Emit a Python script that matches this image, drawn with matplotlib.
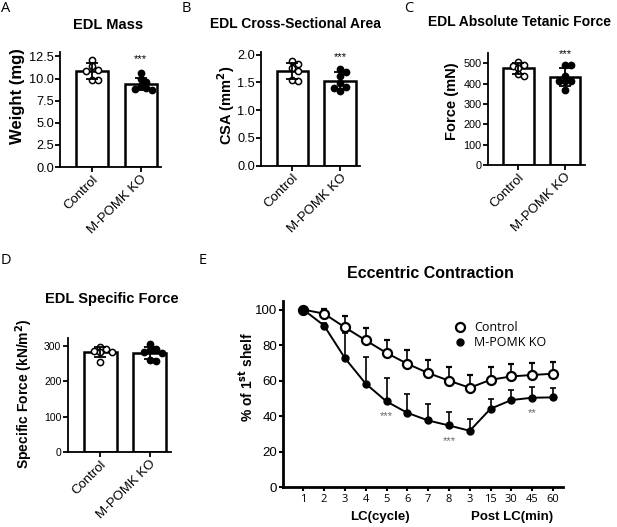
import matplotlib
matplotlib.use("Agg")
import matplotlib.pyplot as plt
from matplotlib.lines import Line2D
from matplotlib.ticker import FormatStrFormatter
import matplotlib.transforms as mtransforms
import numpy as np

plt.rcParams['font.family'] = ['Liberation Sans', 'DejaVu Sans']

groups = ["Control", "M-POMK KO"]

# individual muscles
mass_ctrl = [12.1, 11.4, 11.0, 10.9, 9.8, 9.8]
mass_ko = [10.6, 9.9, 9.6, 9.2, 8.9, 8.8, 8.7]
csa_ctrl = [1.88, 1.83, 1.76, 1.70, 1.54, 1.53]
csa_ko = [1.74, 1.68, 1.62, 1.48, 1.42, 1.40, 1.34]
force_ctrl = [508, 492, 488, 480, 446, 440]
force_ko = [490, 493, 440, 416, 412, 414, 368]
spec_ctrl = [292, 297, 286, 284, 282, 255]
spec_ko = [305, 293, 288, 283, 281, 262, 258]

# eccentric contraction protocol
cycles = ["1", "2", "3", "4", "5", "6", "7", "8", "3", "15", "30", "45", "60"]
ecc_ctrl = [100, 97.7, 90.0, 82.7, 75.6, 69.5, 64.3, 60.0, 56.0, 60.5, 62.4, 63.2, 63.9]
ecc_ctrl_err = [0, 2.9, 6.2, 6.8, 7.5, 7.6, 7.5, 7.7, 7.0, 7.2, 7.0, 6.7, 6.8]
ecc_ko = [100, 91.0, 72.7, 58.3, 48.3, 41.9, 37.6, 34.8, 31.8, 44.2, 49.1, 50.4, 50.6]
ecc_ko_err = [0, 1.5, 14.1, 15.0, 13.2, 10.7, 9.0, 7.5, 6.5, 5.4, 5.4, 5.8, 5.4]
star_idx = [4, 7, 11]
star_y = [40, 26, 42]
star_txt = ["***", "***", "**"]

W, H = 617, 527


def px_box(left, top, right, bottom):
    return [left / W, 1 - bottom / H, (right - left) / W, (bottom - top) / H]


def swarm(vals, ytop, step=0.12):
    vals = np.asarray(vals, float)
    offs = np.zeros(len(vals))
    placed = []
    thr = ytop * 0.045
    for i in np.argsort(-vals):
        for k in [0, 1, -1, 2, -2, 3, -3]:
            dx = k * step
            if all(not (abs(vals[i] - vals[j]) < thr and abs(dx - offs[j]) < step * 0.9) for j in placed):
                break
        offs[i] = dx
        placed.append(i)
    return offs


def bar_panel(ax, ctrl, ko, ytop, yticks, fmt, ysize, stars_y=None):
    for xi, d, filled in [(0, ctrl, False), (1, ko, True)]:
        d = np.asarray(d, float)
        m, sd = d.mean(), d.std(ddof=1)
        ax.bar(xi, m, width=0.66, color='white', edgecolor='black', linewidth=1.8, zorder=1)
        ax.errorbar(xi, m, yerr=sd, color='black', capsize=4, elinewidth=1.3, capthick=1.3, zorder=4)
        ax.scatter(xi + swarm(d, ytop), d, s=20, facecolor='black' if filled else 'white',
                   edgecolor='black', linewidth=1.1, zorder=3)
    if stars_y is not None:
        ax.text(1, stars_y, '***', ha='center', va='center', fontsize=8)
    ax.set_xlim(-0.66, 1.42)
    ax.set_ylim(0, ytop)
    ax.set_yticks(yticks)
    ax.yaxis.set_major_formatter(FormatStrFormatter(fmt))
    ax.set_xticks([0, 1])
    ax.set_xticklabels(groups, rotation=45, ha='right', rotation_mode='anchor', fontsize=9.5)
    ax.tick_params(axis='y', labelsize=ysize)
    ax.tick_params(width=1.3, length=3.6, pad=0.8)
    for s in ['top', 'right']:
        ax.spines[s].set_visible(False)
    for s in ['left', 'bottom']:
        ax.spines[s].set_linewidth(1.3)


fig = plt.figure(figsize=(W / 100, H / 100), dpi=100)

ax_a = fig.add_axes(px_box(60, 52, 161, 167))
bar_panel(ax_a, mass_ctrl, mass_ko, 13.0, np.arange(0, 12.6, 2.5), '%.1f', 9.2, 12.2)
ax_b = fig.add_axes(px_box(261, 52.3, 360, 165.7))
bar_panel(ax_b, csa_ctrl, csa_ko, 2.04, np.arange(0, 2.01, 0.5), '%.1f', 9.2, 1.95)
ax_c = fig.add_axes(px_box(487.5, 53.3, 584.5, 165))
bar_panel(ax_c, force_ctrl, force_ko, 550, np.arange(0, 501, 100), '%d', 7.8, 546)
ax_d = fig.add_axes(px_box(67.5, 338, 170.5, 452))
bar_panel(ax_d, spec_ctrl, spec_ko, 323, np.arange(0, 301, 100), '%d', 7.5)

title_kw = dict(ha='center', va='center', fontweight='bold')
fig.text(108 / W, 1 - 25 / H, "EDL Mass", fontsize=10.5, **title_kw)
fig.text(295 / W, 1 - 24 / H, "EDL Cross-Sectional Area", fontsize=10, **title_kw)
fig.text(520 / W, 1 - 22 / H, "EDL Absolute Tetanic Force", fontsize=10, **title_kw)
fig.text(112 / W, 1 - 299 / H, "EDL Specific Force", fontsize=10.5, **title_kw)
fig.text(430 / W, 1 - 273 / H, "Eccentric Contraction", fontsize=11.5, **title_kw)

ylab_kw = dict(ha='center', va='center', rotation=90, fontweight='bold')
fig.text(18 / W, 1 - 96 / H, "Weight (mg)", fontsize=12, **ylab_kw)
fig.text(226 / W, 1 - 105 / H, "CSA (mm$^\\mathbf{2}$)", fontsize=10.5, **ylab_kw)
fig.text(452 / W, 1 - 101 / H, "Force (mN)", fontsize=10.5, **ylab_kw)
fig.text(24 / W, 1 - 394 / H, "Specific Force (kN/m$^\\mathbf{2}$)", fontsize=10, **ylab_kw)
fig.text(247 / W, 1 - 377 / H, "% of 1$^\\mathbf{st}$ shelf", fontsize=10, **ylab_kw)

for lab, x, y in [("A", 6, 8), ("B", 186, 8), ("C", 409, 8), ("D", 6, 260), ("E", 203, 260)]:
    fig.text(x / W, 1 - y / H, lab, ha='center', va='center', fontsize=10.5,
             family=['Open Sans', 'DejaVu Sans'])

# panel E
ax_e = fig.add_axes(px_box(283.3, 300.7, 563, 487.3))
x = np.arange(len(cycles))
z = np.zeros(len(cycles))
ax_e.errorbar(x, ecc_ctrl, yerr=[z, ecc_ctrl_err], fmt='-o', color='black', mfc='white', mec='black',
              mew=1.6, ms=6.5, lw=1.4, elinewidth=1.2, capsize=2.5, capthick=1.2, zorder=3)
ax_e.errorbar(x, ecc_ko, yerr=[z, ecc_ko_err], fmt='-o', color='black', mfc='black', mec='black',
              ms=5, lw=1.4, elinewidth=1.2, capsize=2.5, capthick=1.2, zorder=4)
for i, yv, t in zip(star_idx, star_y, star_txt):
    ax_e.text(x[i], yv, t, ha='center', va='center', fontsize=8, color='#666666')
ax_e.set_xlim(-0.96, 12.48)
ax_e.set_ylim(0, 105)
ax_e.set_yticks(np.arange(0, 101, 20))
ax_e.set_xticks(x)
ax_e.set_xticklabels(cycles, fontsize=8, family=['Open Sans', 'DejaVu Sans'])
ax_e.tick_params(axis='y', labelsize=9.5)
ax_e.tick_params(width=1.5, length=3, pad=1.5)
for s in ['top', 'right']:
    ax_e.spines[s].set_visible(False)
for s in ['left', 'bottom']:
    ax_e.spines[s].set_linewidth(2)

trans = mtransforms.blended_transform_factory(ax_e.transData, ax_e.transAxes)
ax_e.text(3.69, -0.16, "LC(cycle)", transform=trans, ha='center', va='center',
          fontsize=9.5, fontweight='bold')
ax_e.text(10.04, -0.16, "Post LC(min)", transform=trans, ha='center', va='center',
          fontsize=9.5, fontweight='bold')

handles = [Line2D([], [], ls='none', marker='o', mfc='white', mec='black', mew=1.6, ms=6.5),
           Line2D([], [], ls='none', marker='o', mfc='black', mec='black', ms=5)]
ax_e.legend(handles, groups, loc='upper left', bbox_to_anchor=(0.57, 0.95), frameon=False,
            handlelength=1.0, handletextpad=0.6, labelspacing=0.15,
            prop={'family': ['Open Sans', 'DejaVu Sans'], 'size': 9})

fig.savefig("out.png", dpi=100)
